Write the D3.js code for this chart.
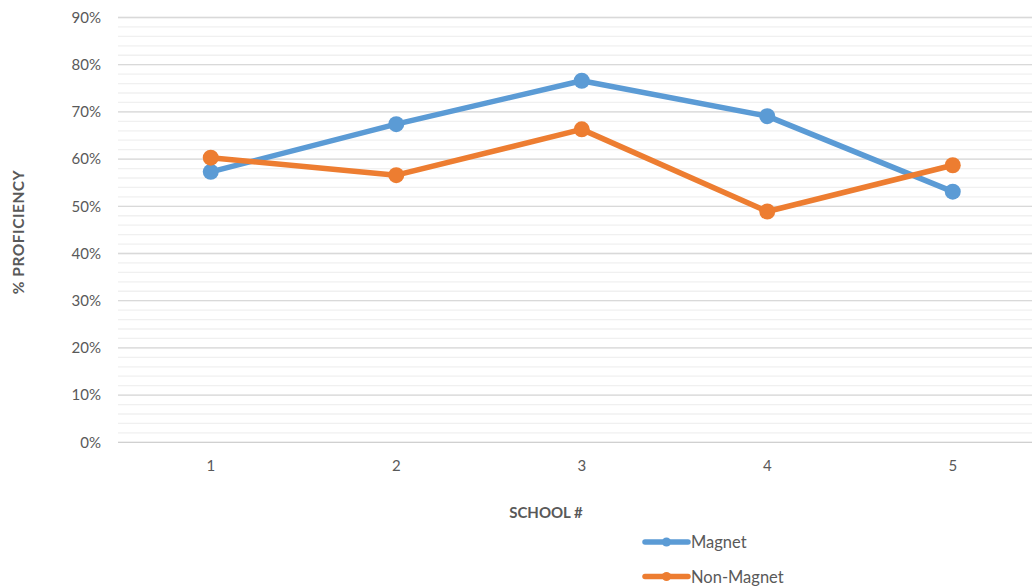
<!DOCTYPE html>
<html>
<head>
<meta charset="utf-8">
<script src="https://cdn.jsdelivr.net/npm/d3@7/dist/d3.min.js"></script>
<style>
  html, body { margin: 0; padding: 0; background: #fff; }
  svg { display: block; font-family: "Lato", "Open Sans", sans-serif; }
</style>
</head>
<body>
<svg id="chart" width="1032" height="586"></svg>
<script>
// Schools on the x axis
const schools = ["1", "2", "3", "4", "5"];
// Share of students reaching proficiency, per school
const magnet = [0.573, 0.674, 0.766, 0.691, 0.531];
const nonMagnet = [0.603, 0.566, 0.663, 0.489, 0.587];
// Axis ticks
const majorTicks = [0, 0.1, 0.2, 0.3, 0.4, 0.5, 0.6, 0.7, 0.8, 0.9];
const minorTicks = d3.range(0, 0.9001, 0.02);

const seriesNames = ["Magnet", "Non-Magnet"];
const seriesColors = ["#5B9BD5", "#ED7D31"];
const series = [magnet, nonMagnet];

const svg = d3.select("#chart");
const plotLeft = 118, plotRight = 1045.5, plotTop = 17.5, plotBottom = 442.3;

const x = d3.scaleBand().domain(schools).range([plotLeft, plotRight]);
const y = d3.scaleLinear().domain([0, 0.9]).range([plotBottom, plotTop]);

// Minor gridlines
svg.append("g").selectAll("line").data(minorTicks).join("line")
  .attr("x1", plotLeft).attr("x2", 1032)
  .attr("y1", d => y(d)).attr("y2", d => y(d))
  .attr("stroke", "#f0f0f0").attr("stroke-width", 1.3);

// Major gridlines
svg.append("g").selectAll("line").data(majorTicks).join("line")
  .attr("x1", plotLeft).attr("x2", 1032)
  .attr("y1", d => y(d)).attr("y2", d => y(d))
  .attr("stroke", d => d === 0 ? "#d0d0d0" : "#d9d9d9").attr("stroke-width", 1.3);

// Y axis labels
const yAxis = d3.axisLeft(y).tickValues(majorTicks).tickFormat(d3.format(".0%")).tickSize(0).tickPadding(17);
const gy = svg.append("g").attr("transform", `translate(${plotLeft},0)`).call(yAxis);
gy.select(".domain").remove();
gy.selectAll("text").attr("fill", "#595959").style("font-size", "15px").style("font-family", "Lato, 'Open Sans', sans-serif");

// X axis labels
const xAxis = d3.axisBottom(x).tickSize(0).tickPadding(18);
const gx = svg.append("g").attr("transform", `translate(0,${plotBottom})`).call(xAxis);
gx.select(".domain").remove();
gx.selectAll("text").attr("fill", "#595959").style("font-size", "15px").style("font-family", "Lato, 'Open Sans', sans-serif");

// Axis titles
svg.append("text").attr("x", 546).attr("y", 518).attr("text-anchor", "middle")
  .attr("fill", "#595959").style("font-size", "15px").style("font-weight", "bold")
  .text("SCHOOL #");
svg.append("text").attr("transform", "translate(24,232) rotate(-90)").attr("text-anchor", "middle")
  .attr("fill", "#595959").style("font-size", "15.5px").style("font-weight", "bold")
  .style("letter-spacing", "0.5px")
  .text("% PROFICIENCY");

// Lines and markers
const cx = d => x(d) + x.bandwidth() / 2;
const line = d3.line().x((d, i) => cx(schools[i])).y(d => y(d));
series.forEach((vals, s) => {
  const g = svg.append("g");
  g.append("path").datum(vals).attr("d", line)
    .attr("fill", "none").attr("stroke", seriesColors[s]).attr("stroke-width", 5.5)
    .attr("stroke-linejoin", "round").attr("stroke-linecap", "round");
  g.selectAll("circle").data(vals).join("circle")
    .attr("cx", (d, i) => cx(schools[i])).attr("cy", d => y(d)).attr("r", 8)
    .attr("fill", seriesColors[s]);
});

// Legend
const legend = svg.append("g");
seriesNames.forEach((name, i) => {
  const ly = 542 + i * 34.5;
  legend.append("line").attr("x1", 645).attr("x2", 688).attr("y1", ly).attr("y2", ly)
    .attr("stroke", seriesColors[i]).attr("stroke-width", 5.5).attr("stroke-linecap", "round");
  legend.append("circle").attr("cx", 666.5).attr("cy", ly).attr("r", 4.5).attr("fill", seriesColors[i]);
  legend.append("text").attr("x", 691).attr("y", ly + 6)
    .attr("fill", "#595959").style("font-size", "16.5px").text(name);
});
</script>
</body>
</html>
